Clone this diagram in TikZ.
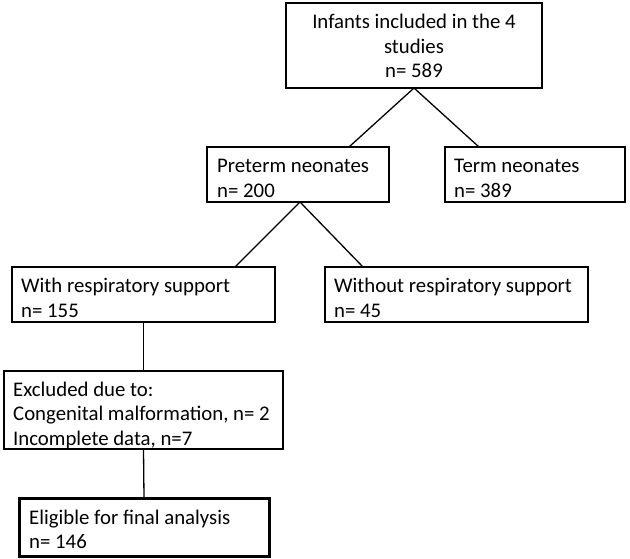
\documentclass[tikz,border=0pt]{standalone}
\usepackage{fontspec}
\setmainfont{Carlito}
\begin{document}
\begin{tikzpicture}[x=1pt,y=-1pt,
  box/.style={draw=black,line width=1.3pt,anchor=north west,inner sep=0pt,outer sep=0pt},
  thickbox/.style={box,line width=3pt},
  txt/.style={anchor=base west,inner sep=0pt,font=\fontsize{20.8}{24.5}\selectfont},
  ctxt/.style={anchor=base,inner sep=0pt,font=\fontsize{20.8}{24.5}\selectfont},
  link/.style={draw=black,line width=1.3pt}]
\useasboundingbox[fill=white] (0,0) rectangle (630,559);
% boxes
\node[box,minimum width=256pt,minimum height=85pt] (top) at (286,3) {};
\node[box,minimum width=182pt,minimum height=55pt] (pre) at (207,147) {};
\node[box,minimum width=180pt,minimum height=55pt] (term) at (445,147) {};
\node[box,minimum width=263pt,minimum height=55pt] (resp) at (12,267) {};
\node[box,minimum width=263pt,minimum height=55pt] (wo) at (325,267) {};
\node[box,minimum width=279pt,minimum height=78pt] (excl) at (4,371) {};
\node[thickbox,minimum width=250pt,minimum height=58pt] (elig) at (19,498) {};
% texts
\node[ctxt] (ttop) at (414,29) {\begin{tabular}[t]{@{}c@{}}Infants included in the 4\\studies\\n= 589\end{tabular}};
\node[txt] (tpre) at (217,173) {\begin{tabular}[t]{@{}l@{}}Preterm neonates\\n= 200\end{tabular}};
\node[txt] (tterm) at (454,173) {\begin{tabular}[t]{@{}l@{}}Term neonates\\n= 389\end{tabular}};
\node[txt] (tresp) at (21,293) {\begin{tabular}[t]{@{}l@{}}With respiratory support\\n= 155\end{tabular}};
\node[txt] (two) at (334,293) {\begin{tabular}[t]{@{}l@{}}Without respiratory support\\n= 45\end{tabular}};
\node[txt] (texcl) at (13,396) {\begin{tabular}[t]{@{}l@{}}Excluded due to:\\Congenital malformation, n= 2\\Incomplete data, n=7\end{tabular}};
\node[txt] (telig) at (29,524) {\begin{tabular}[t]{@{}l@{}}Eligible for final analysis\\n= 146\end{tabular}};
% connectors
\draw[link] (top.south) -- ([xshift=142pt]pre.north west);
\draw[link] (top.south) -- ([xshift=34pt]term.north west);
\draw[link] ([xshift=93pt]pre.south west) -- ([xshift=223pt]resp.north west);
\draw[link] ([xshift=93pt]pre.south west) -- ([xshift=38pt]wo.north west);
\draw[link] (resp.south) -- (excl.north);
\draw[link] (excl.south) -- (elig.north);
\end{tikzpicture}
\end{document}
